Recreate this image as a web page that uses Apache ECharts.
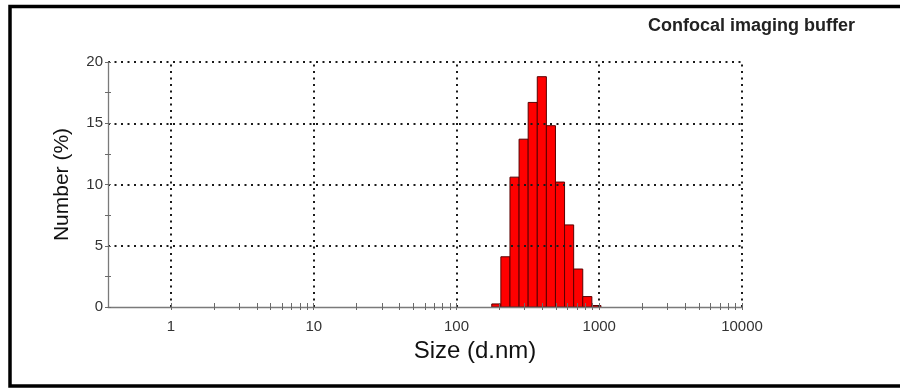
<!DOCTYPE html>
<html>
<head>
<meta charset="utf-8">
<script src="https://cdn.jsdelivr.net/npm/echarts@6/dist/echarts.min.js"></script>
<style>html,body{margin:0;padding:0;background:#fff}#c{width:900px;height:388px}</style>
</head>
<body>
<div id="c"></div>
<script>
// Size classes (d.nm) – bin edges of the histogram bars
const binEdges = [176.7, 204.6, 237.0, 274.4, 317.8, 368.1, 426.3, 493.6, 571.6, 662.0, 766.6, 887.8, 1028];
// Number (%) per size class
const numberPct = [0.25, 4.1, 10.6, 13.7, 16.7, 18.8, 14.8, 10.2, 6.7, 3.1, 0.85, 0.12];
// Decade tick labels on the x axis
const decadeLabels = [1, 10, 100, 1000, 10000];
const minorMultipliers = [2, 3, 4, 5, 6, 7, 8, 9];
const yTicks = [0, 5, 10, 15, 20];

const title = 'Confocal imaging buffer';
const xName = 'Size (d.nm)';
const yName = 'Number (%)';

const lg = v => Math.log10(v);
const xTickVals = [];
decadeLabels.forEach((d, i) => {
  xTickVals.push(lg(d));
  if (i < decadeLabels.length - 1) minorMultipliers.forEach(m => xTickVals.push(lg(d * m)));
});
const xLabelVals = decadeLabels.map(lg);
const barData = numberPct.map((v, i) => [lg(binEdges[i]), lg(binEdges[i + 1]), v]);

const X_MIN = -0.441, X_MAX = 4;
const dotted = { color: '#1a1a1a', width: 2, type: [2, 4.5] };
const tickStyle = { color: '#6a6a6a', width: 1 };
const font = 'Liberation Sans, Arial';

const chart = echarts.init(document.getElementById('c'), null, { renderer: 'canvas' });
chart.setOption({
  animation: false,
  backgroundColor: '#fff',
  grid: { left: 108, right: 158, top: 62, bottom: 81 },
  xAxis: [{
    type: 'value', min: X_MIN, max: X_MAX, z: 10,
    name: xName, nameLocation: 'middle', nameGap: 32,
    nameTextStyle: { fontSize: 24, color: '#111', fontFamily: font, padding: [0, 0, 0, 100] },
    axisLine: { show: true, onZero: false, lineStyle: { color: '#7a7a7a', width: 1.3 } },
    axisTick: { show: true, inside: false, length: 3, customValues: xTickVals, lineStyle: tickStyle },
    axisLabel: { customValues: xLabelVals, margin: 12, fontSize: 15, color: '#333', fontFamily: font,
      formatter: v => String(Math.round(Math.pow(10, v))) },
    splitLine: { show: false }
  }, {
    type: 'value', min: X_MIN, max: X_MAX, position: 'bottom', z: 10,
    axisLine: { show: false, onZero: false },
    axisTick: { show: true, inside: true, length: 4, customValues: xTickVals, lineStyle: tickStyle },
    axisLabel: { show: false }, splitLine: { show: false }
  }],
  yAxis: [{
    type: 'value', min: 0, max: 20, interval: 5, z: 10,
    name: yName, nameLocation: 'middle', nameGap: 35,
    nameTextStyle: { fontSize: 21, color: '#111', fontFamily: font },
    axisLine: { show: true, onZero: false, lineStyle: { color: '#7a7a7a', width: 1.3 } },
    axisTick: { show: true, inside: false, length: 3, lineStyle: tickStyle },
    minorTick: { show: true, splitNumber: 2, length: 3, lineStyle: tickStyle },
    axisLabel: { margin: 5, fontSize: 15, color: '#333', fontFamily: font, customValues: yTicks },
    splitLine: { show: true, showMinLine: false, lineStyle: dotted }
  }, {
    type: 'value', min: 0, max: 20, interval: 5, position: 'left', z: 10,
    axisLine: { show: false, onZero: false },
    axisTick: { show: true, inside: true, length: 3, lineStyle: tickStyle },
    minorTick: { show: true, splitNumber: 2, length: 3, lineStyle: tickStyle },
    axisLabel: { show: false }, splitLine: { show: false }
  }],
  series: [{
    type: 'custom',
    xAxisIndex: 0, yAxisIndex: 0,
    data: barData,
    encode: { x: [0, 1], y: 2 },
    renderItem: (params, api) => {
      const p0 = api.coord([api.value(0), api.value(2)]);
      const p1 = api.coord([api.value(1), 0]);
      return {
        type: 'rect',
        shape: { x: p0[0], y: p0[1], width: p1[0] - p0[0], height: p1[1] - p0[1] },
        style: { fill: '#ff0000', stroke: '#5a0000', lineWidth: 1 }
      };
    },
    markLine: {
      silent: true, symbol: ['none', 'none'], label: { show: false },
      lineStyle: dotted,
      data: xLabelVals.map(v => ({ xAxis: v }))
    },
    z: 3
  }],
  graphic: [{
    type: 'rect', silent: true,
    shape: { x: 10, y: 6.5, width: 1000, height: 379.5 },
    style: { fill: 'none', stroke: '#000', lineWidth: 3.5 }
  }, {
    type: 'text', silent: true, right: 45, top: 17,
    style: { text: title, font: 'bold 18px "Liberation Sans", Arial', fill: '#222' }
  }]
});
</script>
</body>
</html>
